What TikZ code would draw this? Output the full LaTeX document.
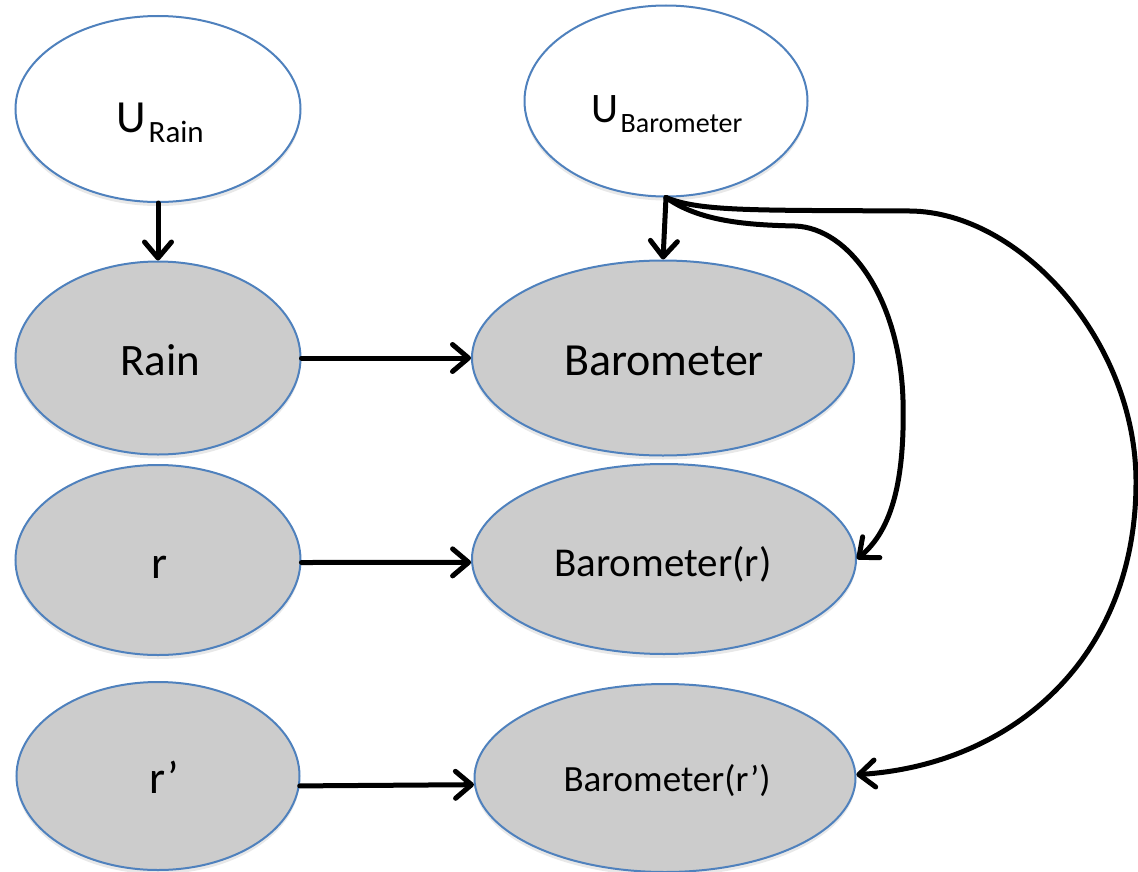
\documentclass[tikz,border=0pt]{standalone}
\usepackage{fontspec}
\setmainfont{Carlito}
\usetikzlibrary{shapes.geometric,arrows.meta,shadows}
\definecolor{nodeblue}{RGB}{79,129,189}
\definecolor{nodegray}{RGB}{204,204,204}
\newcommand{\fs}[1]{\fontsize{#1bp}{#1bp}\selectfont}

\begin{document}
\begin{tikzpicture}[x=1bp,y=-1bp,
  var/.style={ellipse, draw=nodeblue, line width=2bp, fill=nodegray, inner sep=0pt,
    drop shadow={opacity=0.18, shadow xshift=0bp, shadow yshift=-4bp}},
  exo/.style={var, fill=white},
  lbl/.style={anchor=base, inner sep=0pt, text=black},
  link/.style={line width=5bp, line cap=round,
    -{Straight Barb[length=16bp,width=27bp,round]}}
]
\useasboundingbox (0,0) rectangle (1138,872);

% exogenous noise variables
\node[exo, minimum width=285bp, minimum height=186bp] (uR) at (158,109) {};
\node[exo, minimum width=283bp, minimum height=191bp] (uB) at (666,101) {};

% endogenous variables and interventions
\node[var, minimum width=285bp, minimum height=193bp] (rain) at (158,358) {};
\node[var, minimum width=382bp, minimum height=195bp] (baro) at (663,358) {};
\node[var, minimum width=285bp, minimum height=190bp] (r)    at (158,560) {};
\node[var, minimum width=384bp, minimum height=190bp] (barr) at (664,559) {};
\node[var, minimum width=283bp, minimum height=188bp] (rp)   at (158,776) {};
\node[var, minimum width=381bp, minimum height=188bp] (barrp) at (665,778) {};

% labels
\node[lbl] (tUR) at (160,132) {\fs{46}U\kern3bp\raisebox{-10bp}{\fs{31}Rain}};
\node[lbl] (tUB) at (667,122) {\fs{42}U\kern2bp\raisebox{-10bp}{\fs{28}Barometer}};
\node[lbl, font=\fs{45}] (tRain) at (160,375) {Rain};
\node[lbl, font=\fs{46}] (tBaro) at (664,375) {Barometer};
\node[lbl, font=\fs{46}] (tr) at (160,578) {r};
\node[lbl, font=\fs{41}] (tBarr) at (663,576) {Barometer(r)};
\node[lbl, font=\fs{46}] (trp) at (164,793) {r’};
\node[lbl, font=\fs{37}] (tBarrp) at (667,791) {Barometer(r’)};

% causal links
\draw[link] (uR.south) -- (rain.north);
\draw[link] (uB.south) -- (baro.north);
\draw[link] (rain.east) -- (baro.west);
\draw[link] (r.-1) -- (barr.181);
\draw[link] (rp.-4.5) -- (barrp.182.7);

% links from the barometer noise to the intervened copies
\draw[link] (uB.south) .. controls (700,222) and (750,225) .. (795,226)
  .. controls (850,228) and (900,300) .. (903,400)
  .. controls (905,480) and (892,530) .. (barr.east);
\draw[link] (uB.south) .. controls (700,212) and (760,210) .. (910,211)
  .. controls (1020,212) and (1135,340) .. (1136,480)
  .. controls (1137,660) and (1010,765) .. (barrp.1);
\end{tikzpicture}
\end{document}
